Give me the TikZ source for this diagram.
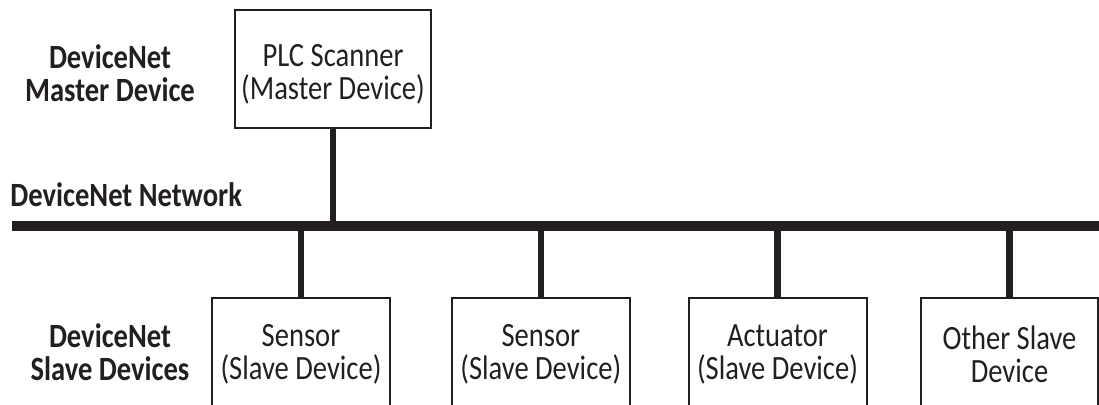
\documentclass[tikz,border=0pt]{standalone}
\usepackage{fontspec}
\setmainfont{Carlito}[FakeStretch=0.84]
\definecolor{ink}{HTML}{231F20}

\begin{document}
\begin{tikzpicture}[x=0.5pt, y=-0.5pt,
    every node/.style={text=ink, align=center, font=\fontsize{17}{16.5}\selectfont},
    device/.style={draw=ink, line width=1pt, minimum width=89pt},
    slave/.style={device, minimum height=57pt},
    tag/.style={font=\fontsize{17}{16.5}\selectfont\bfseries},
    drop/.style={draw=ink, line width=3.25pt},
    bus/.style={draw=ink, line width=5pt}]

\useasboundingbox (0,0) rectangle (1099,404);
\clip (0,0) rectangle (1099,404);

% network line
\coordinate (busL) at (12,225.7);
\coordinate (busR) at (1099,225.7);
\draw[bus] (busL) -- (busR);
\node[tag, anchor=base west, inner sep=0pt] (nettag) at (10,206.7) {DeviceNet Network};

% master
\node[device, minimum width=98pt, minimum height=59.25pt] (plc) at (333,68.8) {};
\node (plctext) at ([yshift=-3pt]plc.center) {PLC Scanner\\(Master Device)};
\node[tag] (mastertag) at (110,73) {DeviceNet\\Master Device};
\draw[drop] (plc.south) -- (plc.south |- busL);

% slaves
\node[slave] (sensA) at (301,354.5) {Sensor\\(Slave Device)};
\node[slave] (sensB) at (540.8,354.5) {Sensor\\(Slave Device)};
\node[slave] (act) at (777.5,354.5) {Actuator\\(Slave Device)};
\node[slave, minimum width=88.5pt] (other) at (1009.5,354.5) {Other Slave\\Device};
\node[tag] (slavetag) at (110,352) {DeviceNet\\Slave Devices};

\draw[drop] (sensA.north) -- (sensA.north |- busL);
\draw[drop] (sensB.north) -- (sensB.north |- busL);
\draw[drop] (act.north) -- (act.north |- busL);
\draw[drop] (other.north) -- (other.north |- busL);

\end{tikzpicture}
\end{document}
